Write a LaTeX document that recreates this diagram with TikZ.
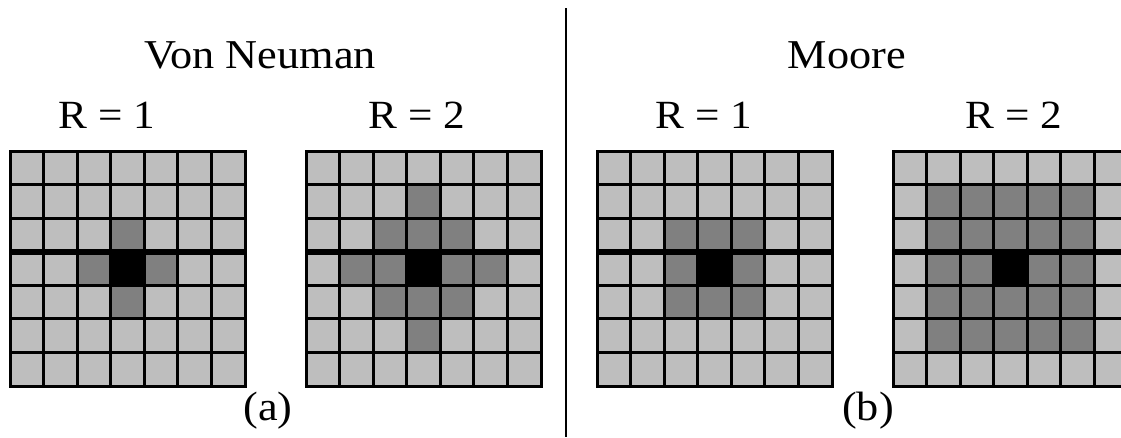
\documentclass[tikz,border=0pt]{standalone}
\usepackage{fontspec}
\setmainfont{Liberation Serif}[FakeStretch=1.08]
\usepackage{xcolor}
\definecolor{cellgrey}{RGB}{190,190,190}
\definecolor{nbgrey}{RGB}{128,128,128}
\tikzset{
  title/.style={
    anchor=base,
    inner sep=0pt,
    font=\fontsize{41}{48}\selectfont,
  },
  radius label/.style={
    anchor=base,
    inner sep=0pt,
    font=\fontsize{40}{48}\selectfont,
  },
  caption/.style={
    anchor=base,
    inner sep=0pt,
    font=\fontsize{41}{48}\selectfont,
  },
  grid line/.style={line width=3pt, black},
  mid line/.style={line width=6pt, black},
  separator/.style={line width=2pt, black},
}

\begin{document}
\begin{tikzpicture}[x=1pt,y=-1pt]
  \clip (0,0) rectangle (1121,437);
  \fill[white] (0,0) rectangle (1121,437);

  \node[title] (vn title) at (260,68) {Von Neuman};
  \node[title] (mo title) at (847,68) {Moore};

  \node[radius label] (vn r1) at (107,128) {R = 1};
  \node[radius label] (vn r2) at (417,128) {R = 2};
  \node[radius label] (mo r1) at (704,128) {R = 1};
  \node[radius label] (mo r2) at (1014,128) {R = 2};

  % the 7x7 grids: kind 0 = von Neumann, kind 1 = Moore
  \foreach \gx/\kind/\rad in {10/0/1, 306/0/2, 597/1/1, 893/1/2} {
    \foreach \i in {-3,...,3} {
      \foreach \j in {-3,...,3} {
        \pgfmathtruncatemacro\dist{\kind==0 ? abs(\i)+abs(\j) : max(abs(\i),abs(\j))}
        \ifnum\dist=0 \def\cellcol{black}\else
          \ifnum\dist>\rad \def\cellcol{cellgrey}\else\def\cellcol{nbgrey}\fi
        \fi
        \fill[\cellcol] ({\gx+(\i+3)*33.57},{151+(\j+3)*33.57}) rectangle +(33.57,33.57);
      }
    }
    \foreach \k in {1,...,6} {
      \draw[grid line] ({\gx+\k*33.57},151) -- ++(0,235);
      \draw[grid line] (\gx,{151+\k*33.57}) -- ++(235,0);
    }
    \draw[mid line] (\gx,{151+3*33.57}) -- ++(235,0);
    \draw[grid line] (\gx,151) rectangle ++(235,235);
  }

  \coordinate (sep top) at (566,8);
  \coordinate (sep bot) at (566,437);
  \draw[separator] (sep top) -- (sep bot);

  \node[caption] (cap a) at (268,420) {(a)};
  \node[caption] (cap b) at (868,420) {(b)};
\end{tikzpicture}
\end{document}
